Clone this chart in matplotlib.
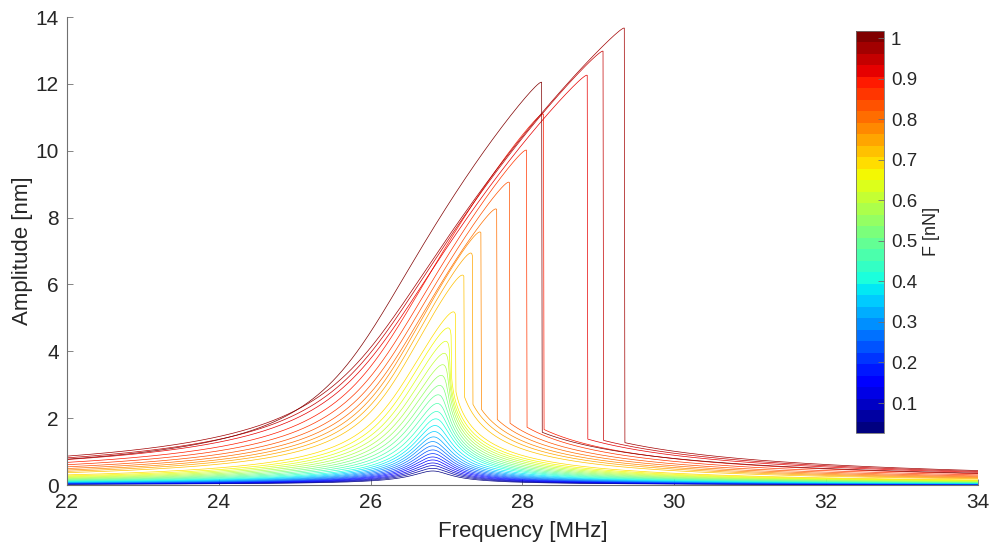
import numpy as np
import matplotlib
matplotlib.use('Agg')
import matplotlib.pyplot as plt
from matplotlib.colors import Normalize
from matplotlib.cm import ScalarMappable

plt.rcParams['font.family'] = ['Liberation Sans', 'DejaVu Sans']

# drive force of each sweep [nN]
forces = [0.040, 0.068, 0.097, 0.125, 0.153, 0.182, 0.210, 0.238, 0.267, 0.295,
          0.323, 0.352, 0.380, 0.408, 0.437, 0.465, 0.493, 0.522, 0.550, 0.578,
          0.607, 0.635, 0.663, 0.692, 0.720, 0.748, 0.777, 0.805, 0.833, 0.862,
          0.890, 0.919, 0.947, 0.975, 1.004]
# largest amplitude reached in each sweep [nm]
peak_amp = [0.42, 0.50, 0.58, 0.66, 0.75, 0.84, 0.94, 1.05, 1.17, 1.30,
            1.44, 1.60, 1.78, 1.98, 2.20, 2.44, 2.70, 2.98, 3.28, 3.60,
            3.94, 4.30, 4.70, 5.18, 6.28, 6.94, 7.57, 8.26, 9.06, 10.02,
            11.10, 12.26, 12.98, 13.67, 12.05]
# frequency of that maximum, i.e. where the sweep jumps down [MHz]
peak_freq = [26.82] * 10 + [26.83, 26.84, 26.85, 26.86, 26.87, 26.88, 26.89, 26.91,
                            26.93, 26.95, 26.97, 26.99, 27.02, 27.09, 27.21, 27.32,
                            27.44, 27.65, 27.82, 28.05, 28.27, 28.85, 29.06, 29.34,
                            28.25]
# small-amplitude resonance of each sweep [MHz]
res_freq = [26.80] * 14 + [26.78, 26.76, 26.74, 26.72, 26.70, 26.68, 26.66, 26.64,
                           26.62] + [26.60] * 11 + [26.35]

q_factor = 55.0
freqs = np.linspace(22, 34, 1500)


def sweep(f0, fp, amp):
    # Duffing resonator driven so that its backbone passes through (fp, amp)
    kappa = (fp**2 - f0**2) / amp**2
    g = amp * fp * f0 / q_factor
    out = []
    for f in freqs:
        d = f0**2 - f**2
        c2 = (f * f0 / q_factor)**2
        x = np.roots([kappa**2, 2 * d * kappa, d**2 + c2, -g**2])
        x = x[(np.abs(x.imag) < 1e-6 * (1 + np.abs(x.real))) & (x.real > 0)].real
        out.append(np.sqrt(x.max()))   # upward sweep stays on the top branch
    return np.array(out)


cmap = plt.get_cmap('jet').resampled(35)
norm = Normalize(vmin=0.026, vmax=1.018)

fig = plt.figure(figsize=(9.94, 5.47), dpi=100)
ax = fig.add_axes([0.0674, 0.1133, 0.9165, 0.8556])

for F, a, fp, f0 in zip(forces, peak_amp, peak_freq, res_freq):
    ax.plot(freqs, sweep(f0, fp, a), color=cmap(norm(F)), lw=0.5)

axcol = '#262626'
ax.set_xlim(22, 34)
ax.set_ylim(0, 14)
ax.set_xticks(np.arange(22, 35, 2))
ax.set_yticks(np.arange(0, 15, 2))
for s in ['top', 'right']:
    ax.spines[s].set_visible(False)
for s in ['left', 'bottom']:
    ax.spines[s].set_color('#707070')
    ax.spines[s].set_linewidth(0.8)
ax.tick_params(direction='in', length=4, width=0.6, color='#707070',
               labelcolor=axcol, labelsize=15, pad=6)
ax.set_xlabel('Frequency [MHz]', fontsize=16, color=axcol, labelpad=6)
ax.set_ylabel('Amplitude [nm]', fontsize=16, color=axcol, labelpad=2)

cax = fig.add_axes([0.861, 0.2084, 0.0282, 0.7352])
sm = ScalarMappable(norm=norm, cmap=cmap)
cb = fig.colorbar(sm, cax=cax)
cb.set_ticks([0.1, 0.2, 0.3, 0.4, 0.5, 0.6, 0.7, 0.8, 0.9, 1.0])
cb.set_ticklabels(['0.1', '0.2', '0.3', '0.4', '0.5', '0.6', '0.7', '0.8', '0.9', '1'])
cb.outline.set_edgecolor('#707070')
cb.outline.set_linewidth(0.6)
cax.tick_params(direction='in', length=4, width=0.6, color='#707070',
                labelcolor=axcol, labelsize=13.5, pad=5)
cb.set_label('F [nN]', fontsize=13, color=axcol, labelpad=4)

fig.savefig('out.png', dpi=100)
